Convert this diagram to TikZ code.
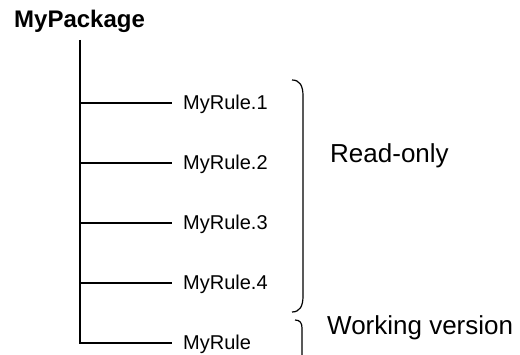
\documentclass[tikz,border=0pt]{standalone}
\usepackage{fontspec}
\setmainfont{Liberation Sans}
\begin{document}
\begin{tikzpicture}[x=1pt,y=-1pt,
  line/.style={draw=black,line width=1.3pt},
  rule/.style={anchor=west,inner xsep=11pt,inner ysep=0pt,text height=14pt,text depth=0pt,font=\fontsize{20}{22}\selectfont},
  biglabel/.style={anchor=base west,inner sep=0pt,font=\fontsize{26}{28}\selectfont},
  brace/.style={draw=black,line width=1.2pt}]
\useasboundingbox[fill=white] (0,0) rectangle (520,355);
\node[anchor=base west,inner sep=0pt,font=\bfseries\fontsize{24}{26}\selectfont] (pkg) at (14,28) {MyPackage};
\coordinate (top) at (80,40);
\coordinate (t1) at (80,103);
\coordinate (t2) at (80,163);
\coordinate (t3) at (80,223);
\coordinate (t4) at (80,283);
\coordinate (t5) at (80,343);
\node[rule] (r1) at (172,103) {MyRule.1};
\node[rule] (r2) at (172,163) {MyRule.2};
\node[rule] (r3) at (172,223) {MyRule.3};
\node[rule] (r4) at (172,283) {MyRule.4};
\node[rule] (r5) at (172,343) {MyRule};
\draw[line] (top) -- (t5) -- (r5.west);
\draw[line] (t1) -- (r1.west);
\draw[line] (t2) -- (r2.west);
\draw[line] (t3) -- (r3.west);
\draw[line] (t4) -- (r4.west);
\draw[brace] (292,80) .. controls (300,80) and (303,86) .. (303,96) -- (303,296) .. controls (303,306) and (300,312) .. (292,312);
\draw[brace] (295,320) .. controls (300,320) and (302,323) .. (302,328) -- (302,356);
\node[biglabel] (ro) at (330,163) {Read-only};
\node[biglabel] (wv) at (327,335) {Working version};
\end{tikzpicture}
\end{document}
